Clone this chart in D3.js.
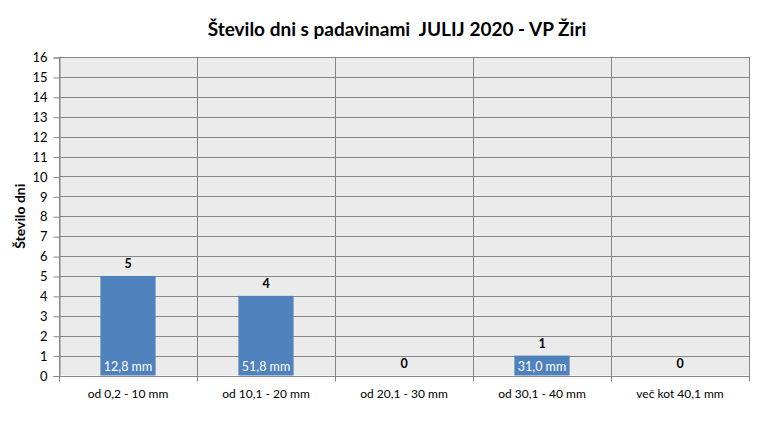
<!DOCTYPE html>
<html>
<head>
<meta charset="utf-8">
<script src="https://cdn.jsdelivr.net/npm/d3@7"></script>
<style>
  body { margin: 0; background: #fff; }
  text { font-family: Lato, "Open Sans", sans-serif; }
</style>
</head>
<body>
<script>
// data
const categories = ["od 0,2 - 10 mm", "od 10,1 - 20 mm", "od 20,1 - 30 mm", "od 30,1 - 40 mm", "več kot 40,1 mm"]
const days = [5, 4, 0, 1, 0]
const rainLabels = ["12,8 mm", "51,8 mm", "", "31,0 mm", ""]
const yTicks = d3.range(0, 17)

const width = 770
const height = 439
const margin = { top: 57, right: 21, bottom: 63.5, left: 59 }

const svg = d3.select("body").append("svg")
  .attr("width", width)
  .attr("height", height)

const x = d3.scaleBand()
  .domain(categories)
  .range([margin.left, width - margin.right])
  .paddingInner(0).paddingOuter(0)

const y = d3.scaleLinear()
  .domain([0, 16])
  .range([height - margin.bottom, margin.top])

// plot background
svg.append("rect")
  .attr("x", margin.left).attr("y", margin.top)
  .attr("width", width - margin.left - margin.right)
  .attr("height", y(0) - margin.top)
  .attr("fill", "#ebebeb")

// horizontal gridlines
svg.append("g").selectAll("line").data(yTicks).enter()
  .append("line")
  .attr("x1", margin.left).attr("x2", width - margin.right)
  .attr("y1", d => Math.round(y(d)) + 0.5).attr("y2", d => Math.round(y(d)) + 0.5)
  .attr("stroke", "#868686")

// vertical gridlines at category borders
const borders = categories.map(c => x(c)).concat([x.range()[1]])
svg.append("g").selectAll("line").data(borders).enter()
  .append("line")
  .attr("x1", d => Math.round(d) + 0.5).attr("x2", d => Math.round(d) + 0.5)
  .attr("y1", margin.top).attr("y2", y(0) + 6)
  .attr("stroke", "#868686")

// y axis
const yAxis = svg.append("g")
  .attr("transform", "translate(" + (margin.left + 0.5) + ",0.5)")
  .call(d3.axisLeft(y).tickValues(yTicks).tickSize(6).tickPadding(6))
yAxis.select(".domain").attr("stroke", "#868686")
yAxis.selectAll(".tick line").attr("stroke", "#868686")
yAxis.selectAll(".tick text")
  .style("font-family", "Lato, sans-serif")
  .style("font-size", "13px")
  .attr("fill", "#000")

// bars
const bw = x.bandwidth() * 0.4
svg.append("g").selectAll("rect").data(days).enter()
  .append("rect")
  .attr("x", (d, i) => x(categories[i]) + (x.bandwidth() - bw) / 2)
  .attr("y", d => y(d))
  .attr("width", bw)
  .attr("height", d => y(0) - y(d))
  .attr("fill", "#4f81bd")

// value labels
svg.append("g").selectAll("text").data(days).enter()
  .append("text")
  .attr("x", (d, i) => x(categories[i]) + x.bandwidth() / 2)
  .attr("y", d => y(d) - 8)
  .attr("text-anchor", "middle")
  .style("font-size", "12.5px")
  .style("font-weight", "bold")
  .text(d => d)

// rain amount labels in bars
svg.append("g").selectAll("text").data(rainLabels).enter()
  .append("text")
  .attr("x", (d, i) => x(categories[i]) + x.bandwidth() / 2)
  .attr("y", y(0) - 5)
  .attr("text-anchor", "middle")
  .attr("fill", "#fff")
  .style("font-size", "12.5px")
  .text(d => d)

// category labels
svg.append("g").selectAll("text").data(categories).enter()
  .append("text")
  .attr("x", d => x(d) + x.bandwidth() / 2)
  .attr("y", y(0) + 22)
  .attr("text-anchor", "middle")
  .style("font-size", "12px")
  .text(d => d)

// title
svg.append("text")
  .attr("x", 397).attr("y", 36)
  .attr("text-anchor", "middle")
  .style("font-size", "19px")
  .style("font-weight", "bold")
  .style("white-space", "pre")
  .text("Število dni s padavinami  JULIJ 2020 - VP Žiri")

// y label
svg.append("text")
  .attr("transform", "translate(25," + ((margin.top + y(0)) / 2) + ") rotate(-90)")
  .attr("text-anchor", "middle")
  .style("font-size", "14px")
  .style("font-weight", "bold")
  .text("Število dni")
</script>
</body>
</html>
